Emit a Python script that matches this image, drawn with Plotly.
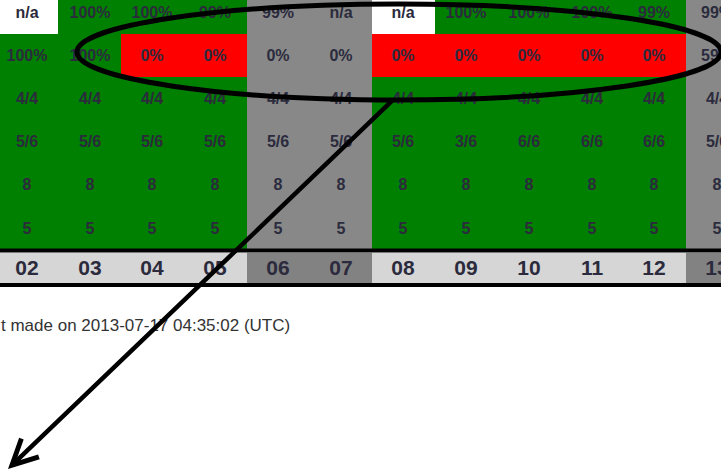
import plotly.graph_objects as go

# ---- data ----
days = ["02", "03", "04", "05", "06", "07", "08", "09", "10", "11", "12", "13"]
weekend = [0, 0, 0, 0, 1, 1, 0, 0, 0, 0, 0, 1]

row_uptime = ["n/a", "100%", "100%", "99%", "99%", "n/a", "n/a", "100%", "100%", "100%", "99%", "99%"]
row_check = ["100%", "100%", "0%", "0%", "0%", "0%", "0%", "0%", "0%", "0%", "0%", "59%"]
row_hosts = ["4/4", "4/4", "4/4", "4/4", "4/4", "4/4", "4/4", "4/4", "4/4", "4/4", "4/4", "4/4"]
row_svc = ["5/6", "5/6", "5/6", "5/6", "5/6", "5/6", "5/6", "3/6", "6/6", "6/6", "6/6", "5/6"]
row_a = ["8", "8", "8", "8", "8", "8", "8", "8", "8", "8", "8", "8"]
row_b = ["5", "5", "5", "5", "5", "5", "5", "5", "5", "5", "5", "5"]

# cell states: none / ok / fail (weekend columns shown grey)
state_uptime = ["none", "ok", "ok", "ok", "ok", "ok", "none", "ok", "ok", "ok", "ok", "ok"]
state_check = ["ok", "ok", "fail", "fail", "fail", "fail", "fail", "fail", "fail", "fail", "fail", "fail"]

footer = "t made on 2013-07-17 04:35:02 (UTC)"

# ---- build ----
rows_text = [row_uptime, row_check, row_hosts, row_svc, row_a, row_b]
rows_state = [state_uptime, state_check] + [["ok"] * len(days)] * 4
code = {"none": 0, "ok": 1, "fail": 2}
z = []
for st in rows_state:
    zr = []
    for i, s in enumerate(st):
        zr.append(3 if weekend[i] else code[s])
    z.append(zr)

label_z = [[5 if w else 4 for w in weekend]]

cs = [
    [0.0, "#ffffff"], [1 / 6, "#ffffff"],
    [1 / 6, "#008000"], [2 / 6, "#008000"],
    [2 / 6, "#ff0000"], [3 / 6, "#ff0000"],
    [3 / 6, "#888888"], [4 / 6, "#888888"],
    [4 / 6, "#d6d6d6"], [5 / 6, "#d6d6d6"],
    [5 / 6, "#828282"], [1.0, "#828282"],
]

W, H = 721, 476
fig = go.Figure()
fig.add_trace(go.Heatmap(
    z=z, x=days, y=list(range(6)), text=rows_text,
    texttemplate="<b>%{text}</b>",
    textfont=dict(family="Liberation Sans, Arial", size=16, color="#2b2b3d"),
    colorscale=cs, zmin=-0.5, zmax=5.5, showscale=False, hoverinfo="skip",
    xaxis="x", yaxis="y",
))
fig.add_trace(go.Heatmap(
    z=label_z, x=days, y=[0], text=[days],
    texttemplate="<b>%{text}</b>",
    textfont=dict(family="Liberation Sans, Arial", size=21, color="#2b2b3d"),
    colorscale=cs, zmin=-0.5, zmax=5.5, showscale=False, hoverinfo="skip",
    xaxis="x2", yaxis="y2",
))

def py(px):
    return 1 - px / H

def pxx(px):
    return px / W

ax_common = dict(showgrid=False, zeroline=False, showticklabels=False, ticks="",
                 showline=False, range=[-0.43, 11.06])
fig.update_layout(
    width=W, height=H,
    margin=dict(l=0, r=0, t=0, b=0),
    paper_bgcolor="white", plot_bgcolor="white",
    showlegend=False,
    xaxis=dict(domain=[0, 1], anchor="y", **ax_common),
    xaxis2=dict(domain=[0, 1], anchor="y2", **ax_common),
    yaxis=dict(domain=[py(249), 1], anchor="x", range=[5.5, -0.29],
               showgrid=False, zeroline=False, showticklabels=False, ticks=""),
    yaxis2=dict(domain=[py(283), py(252.5)], anchor="x2", range=[-0.5, 0.5],
                showgrid=False, zeroline=False, showticklabels=False, ticks=""),
)

shapes = [
    dict(type="line", xref="paper", yref="paper", x0=0, x1=1, y0=py(250.5), y1=py(250.5),
         line=dict(color="black", width=4)),
    dict(type="line", xref="paper", yref="paper", x0=0, x1=1, y0=py(285), y1=py(285),
         line=dict(color="black", width=4)),
    dict(type="circle", xref="paper", yref="paper", x0=pxx(77), x1=pxx(721),
         y0=py(100), y1=py(4), line=dict(color="black", width=5)),
]
fig.update_layout(shapes=shapes)

fig.add_annotation(
    xref="paper", yref="paper", x=pxx(-1), y=py(325), xanchor="left", yanchor="middle",
    text=footer, showarrow=False,
    font=dict(family="Liberation Sans, Arial", size=17, color="#333333"),
)
fig.add_annotation(
    xref="paper", yref="paper", x=pxx(8), y=py(469), text="",
    showarrow=True, axref="pixel", ayref="pixel", ax=387, ay=-371,
    arrowhead=5, arrowsize=1.1, arrowwidth=4.5, arrowcolor="black", standoff=0,
)

fig.write_html("out.html", config={"displayModeBar": False},
               post_script="document.body.style.margin='0';document.body.style.overflow='hidden';")
